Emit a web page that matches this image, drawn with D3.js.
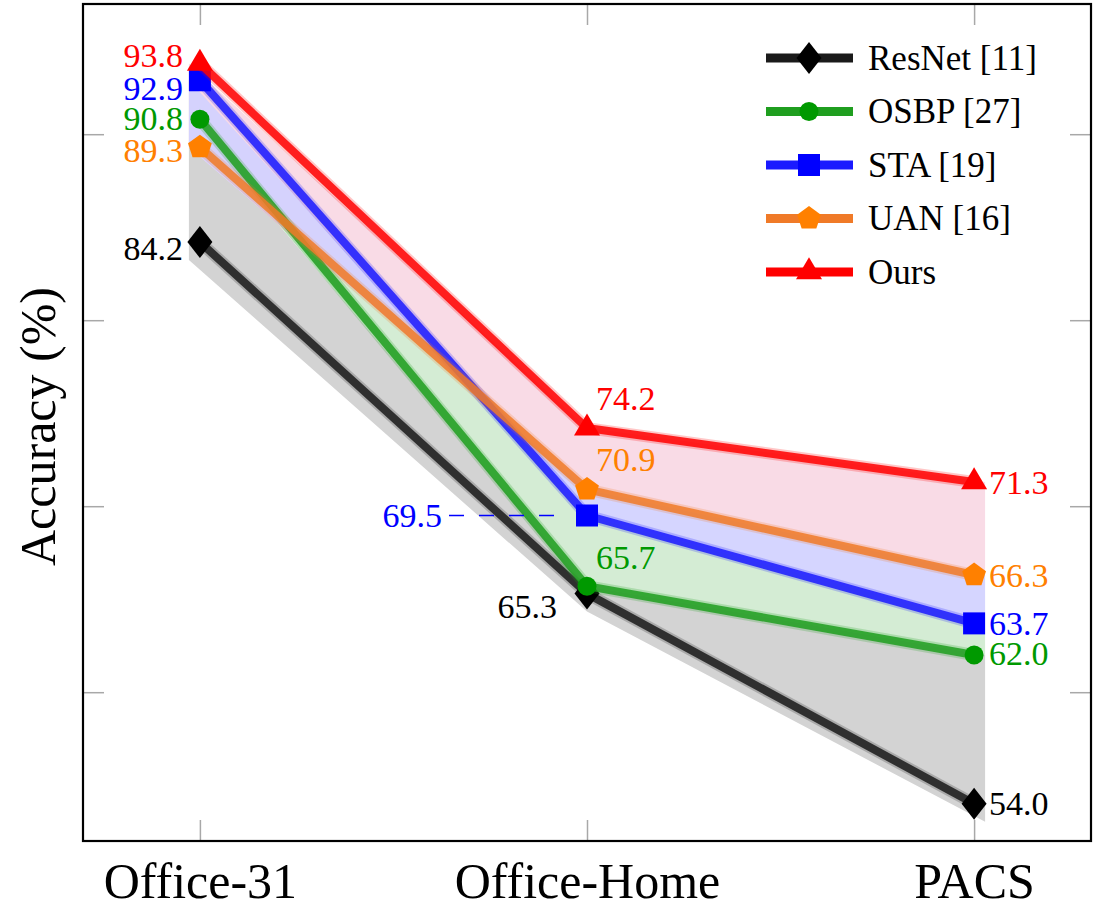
<!DOCTYPE html>
<html>
<head>
<meta charset="utf-8">
<script src="https://cdn.jsdelivr.net/npm/d3@7"></script>
<style>
  body { margin: 0; background: #fff; }
</style>
</head>
<body>
<div id="chart"></div>
<script>
// data
const categories = ["Office-31", "Office-Home", "PACS"];
const methodNames = ["ResNet [11]", "OSBP [27]", "STA [19]", "UAN [16]", "Ours"];
const resnet = [84.2, 65.3, 54.0];
const osbp   = [90.8, 65.7, 62.0];
const sta    = [92.9, 69.5, 63.7];
const uan    = [89.3, 70.9, 66.3];
const ours   = [93.8, 74.2, 71.3];
const yTicks = [60, 70, 80, 90];

const width = 1097, height = 918;
const frame = { left: 83, right: 1091, top: 4, bottom: 841 };
const serif = '"Liberation Serif"';

// series in drawing (legend) order
const series = [
  { key: "resnet", name: methodNames[0], values: resnet, color: "#000000", line: "#1a1a1a", marker: "diamond" },
  { key: "osbp",   name: methodNames[1], values: osbp,   color: "#009900", line: "#1f9e1f", marker: "circle" },
  { key: "sta",    name: methodNames[2], values: sta,    color: "#0000ff", line: "#1a1aff", marker: "square" },
  { key: "uan",    name: methodNames[3], values: uan,    color: "#ff8000", line: "#f07a28", marker: "pentagon" },
  { key: "ours",   name: methodNames[4], values: ours,   color: "#ff0000", line: "#ff0000", marker: "triangle" }
];
const byKey = {};
series.forEach(s => byKey[s.key] = s);

// shaded bands between neighbouring methods (drawn in this order)
const bands = [
  { top: "osbp", bottom: "resnet", fill: "#d3d3d3", shadow: 18 },
  { top: "sta",  bottom: "osbp",   fill: "#d4ecd4", shadow: 0 },
  { top: "ours", bottom: "uan",    fill: "#f9dbe6", shadow: 0 },
  { top: "uan",  bottom: "sta",    fill: "#d0d0ff", shadow: 0, opacity: 0.9 }
];

// label placement: [anchor, dx, dy] per category, per method
const labelPlace = {
  "Office-31":   { resnet: ["end", -17, 6], osbp: ["end", -17, -1], sta: ["end", -17, 8], uan: ["end", -17, 3], ours: ["end", -17, -8] },
  "Office-Home": { resnet: ["end", -30, 13], osbp: ["start", 9, -29], sta: ["end", -145, 0], uan: ["start", 9, -30], ours: ["start", 9, -30] },
  "PACS":        { resnet: ["start", 15, 0], osbp: ["start", 15, -2], sta: ["start", 15, 0], uan: ["start", 15, 0], ours: ["start", 15, 0] }
};

const svg = d3.select("#chart")
  .append("svg")
  .attr("width", width)
  .attr("height", height);

const x = d3.scalePoint()
  .domain(categories)
  .range([frame.left, frame.right])
  .padding(0.302);

const y = d3.scaleLinear()
  .domain([52, 97])
  .range([frame.bottom, frame.top]);

// fills stick out a little past the first and last category
function fillX(d, i) {
  if (i === 0) return x(categories[i]) - 11;
  if (i === categories.length - 1) return x(categories[i]) + 11;
  return x(categories[i]);
}

const plot = svg.append("g");

bands.forEach(b => {
  const topVals = byKey[b.top].values;
  const botVals = byKey[b.bottom].values;
  const area = d3.area()
    .x((d, i) => fillX(d, i))
    .y0((d, i) => y(botVals[i]) + b.shadow)
    .y1((d, i) => y(topVals[i]));
  plot.append("path")
    .attr("d", area(categories))
    .attr("fill", b.fill)
    .attr("fill-opacity", b.opacity || 1);
});

// ticks (inward, no numbers)
const tickColor = "#a8a8a8";
const yAxisL = svg.append("g")
  .attr("transform", `translate(${frame.left},0)`)
  .call(d3.axisLeft(y).tickValues(yTicks).tickSize(-21).tickFormat(""));
const yAxisR = svg.append("g")
  .attr("transform", `translate(${frame.right},0)`)
  .call(d3.axisRight(y).tickValues(yTicks).tickSize(-21).tickFormat(""));
const xAxisT = svg.append("g")
  .attr("transform", `translate(0,${frame.top})`)
  .call(d3.axisTop(x).tickSize(-21).tickFormat(""));
const xAxisB = svg.append("g")
  .attr("transform", `translate(0,${frame.bottom})`)
  .call(d3.axisBottom(x).tickSize(-21).tickPadding(21));

[yAxisL, yAxisR, xAxisT, xAxisB].forEach(a => {
  a.select(".domain").remove();
  a.selectAll(".tick line").attr("stroke", tickColor).attr("stroke-width", 1.5);
});
xAxisB.selectAll(".tick text")
  .style("font-family", serif)
  .attr("font-size", 50)
  .attr("fill", "#000");

// marker shapes
function markerPath(type) {
  if (type === "diamond") return "M0,-16L12.5,0L0,16L-12.5,0Z";
  if (type === "circle") return d3.symbol(d3.symbolCircle, Math.PI * 9.5 * 9.5)();
  if (type === "square") return "M-11,-11h22v22h-22Z";
  if (type === "triangle") return "M0,-14.7L13,7.3L-13,7.3Z";
  // pentagon
  const r = 12.5;
  const pts = d3.range(5).map(k => {
    const a = -Math.PI / 2 + k * 2 * Math.PI / 5;
    return [r * Math.cos(a), r * Math.sin(a)];
  });
  return "M" + pts.map(p => p.join(",")).join("L") + "Z";
}

const line = d3.line()
  .x(d => x(d.cat))
  .y(d => y(d.v));

series.forEach(s => {
  const pts = categories.map((c, i) => ({ cat: c, v: s.values[i] }));
  const g = plot.append("g");
  // soft halo under each line
  g.append("path")
    .attr("d", line(pts))
    .attr("fill", "none")
    .attr("stroke", s.line)
    .attr("stroke-opacity", 0.22)
    .attr("stroke-width", 12)
    .attr("stroke-linejoin", "round");
  g.append("path")
    .attr("d", line(pts))
    .attr("fill", "none")
    .attr("stroke", s.line)
    .attr("stroke-opacity", 0.85)
    .attr("stroke-width", 8)
    .attr("stroke-linejoin", "round");
  g.selectAll("path.mark")
    .data(pts)
    .enter()
    .append("path")
    .attr("class", "mark")
    .attr("d", markerPath(s.marker))
    .attr("transform", d => `translate(${x(d.cat)},${y(d.v)})`)
    .attr("fill", s.color);
});

// dashed guide for STA on Office-Home
svg.append("line")
  .attr("x1", x("Office-Home") - 138)
  .attr("x2", x("Office-Home") - 22)
  .attr("y1", y(sta[1]))
  .attr("y2", y(sta[1]))
  .attr("stroke", "#0000ff")
  .attr("stroke-width", 1.5)
  .attr("stroke-dasharray", "15,15");

// value labels
series.forEach(s => {
  categories.forEach((c, i) => {
    const p = labelPlace[c][s.key];
    svg.append("text")
      .attr("x", x(c) + p[1])
      .attr("y", y(s.values[i]) + p[2])
      .attr("dy", "0.34em")
      .attr("text-anchor", p[0])
      .style("font-family", serif)
      .attr("font-size", 34)
      .attr("fill", s.color)
      .text(s.values[i].toFixed(1));
  });
});

// frame
svg.append("rect")
  .attr("x", frame.left)
  .attr("y", frame.top)
  .attr("width", frame.right - frame.left)
  .attr("height", frame.bottom - frame.top)
  .attr("fill", "none")
  .attr("stroke", "#000")
  .attr("stroke-width", 2.2);

// y axis title
svg.append("text")
  .attr("transform", `translate(55,${(frame.top + frame.bottom) / 2 + 4}) rotate(-90)`)
  .attr("text-anchor", "middle")
  .style("font-family", serif)
  .attr("font-size", 50)
  .text("Accuracy (%)");

// legend
const legend = svg.append("g").attr("transform", "translate(766,58)");
series.forEach((s, i) => {
  const row = legend.append("g").attr("transform", `translate(0,${i * 53.5})`);
  row.append("line")
    .attr("x1", 0).attr("x2", 87)
    .attr("y1", 0).attr("y2", 0)
    .attr("stroke", s.line)
    .attr("stroke-width", 9);
  row.append("path")
    .attr("d", markerPath(s.marker))
    .attr("transform", "translate(43,0)")
    .attr("fill", s.color);
  row.append("text")
    .attr("x", 102)
    .attr("y", 0)
    .attr("dy", "0.33em")
    .style("font-family", serif)
    .attr("font-size", 35)
    .text(s.name);
});
</script>
</body>
</html>
